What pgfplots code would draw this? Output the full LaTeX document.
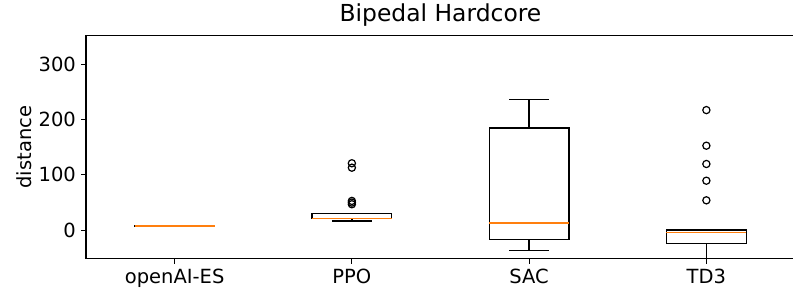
\documentclass[border=0pt]{standalone}
\usepackage{fontspec}
\setmainfont{DejaVu Sans}
\usepackage{pgfplots}
\pgfplotsset{compat=1.18}
\usepgfplotslibrary{statistics}
\definecolor{mplorange}{HTML}{FF7F0E}
\begin{document}
\begin{tikzpicture}
\useasboundingbox (-86bp,-32.3bp) rectangle (707bp,258.7bp);
\begin{axis}[
  at={(0,0)}, anchor=south west,
  scale only axis, width=709bp, height=223bp,
  xmin=0.5, xmax=4.5, ymin=-51.3, ymax=351.3,
  xtick={1,2,3,4}, xticklabels={openAI-ES,PPO,SAC,TD3},
  ytick={0,100,200,300}, yticklabels={0,100,200,300},
  xtick pos=bottom, ytick pos=left,
  tick align=outside, major tick length=4.9bp,
  tick style={black, line width=1.1bp},
  axis line style={black, line width=1.1bp},
  x tick label style={font=\fontsize{19.5bp}{23bp}\selectfont, anchor=north, inner sep=0pt, text height=14.2bp, text depth=4bp, yshift=-5bp},
  y tick label style={font=\fontsize{19.5bp}{23bp}\selectfont, anchor=east, inner sep=0pt, xshift=-5bp},
  title={Bipedal Hardcore},
  title style={font=\fontsize{23.4bp}{28bp}\selectfont, at={(axis description cs:0.5,1)}, anchor=base, inner sep=0pt, yshift=8bp},
  ylabel={distance},
  ylabel style={font=\fontsize{19.5bp}{23bp}\selectfont, at={(axis description cs:-0.0762,0.5)}, anchor=base, inner sep=0pt},
  boxplot/draw direction=y,
  boxplot/box extend=0.45,
  boxplot/whisker extend=0.225,
]
\addplot[black, line width=1.3bp, mark=o, mark size=3.6bp, mark options={solid, black, line width=1.2bp},
  boxplot prepared={draw position=1, lower whisker=7, lower quartile=7.6, median=8, upper quartile=8.4, upper whisker=9,
  every median/.style={draw=mplorange, line width=1.3bp}}] coordinates {};
\addplot[black, line width=1.3bp, mark=o, mark size=3.6bp, mark options={solid, black, line width=1.2bp},
  boxplot prepared={draw position=2, lower whisker=16.8, lower quartile=21, median=21.8, upper quartile=30, upper whisker=30.5,
  every median/.style={draw=mplorange, line width=1.3bp}}]
  table[row sep=\\, y index=0] {d\\ 121\\ 113\\ 53\\ 50\\ 47\\};
\addplot[black, line width=1.3bp, mark=o, mark size=3.6bp, mark options={solid, black, line width=1.2bp},
  boxplot prepared={draw position=3, lower whisker=-36.1, lower quartile=-16.3, median=13.2, upper quartile=184.7, upper whisker=236.5,
  every median/.style={draw=mplorange, line width=1.3bp}}] coordinates {};
\addplot[black, line width=1.3bp, mark=o, mark size=3.6bp, mark options={solid, black, line width=1.2bp},
  boxplot prepared={draw position=4, lower whisker=-100, lower quartile=-23.5, median=-3.7, upper quartile=0.5, upper whisker=1,
  every median/.style={draw=mplorange, line width=1.3bp}}]
  table[row sep=\\, y index=0] {d\\ 217\\ 152.7\\ 119.7\\ 89.5\\ 54.1\\};
\end{axis}
\end{tikzpicture}
\end{document}
